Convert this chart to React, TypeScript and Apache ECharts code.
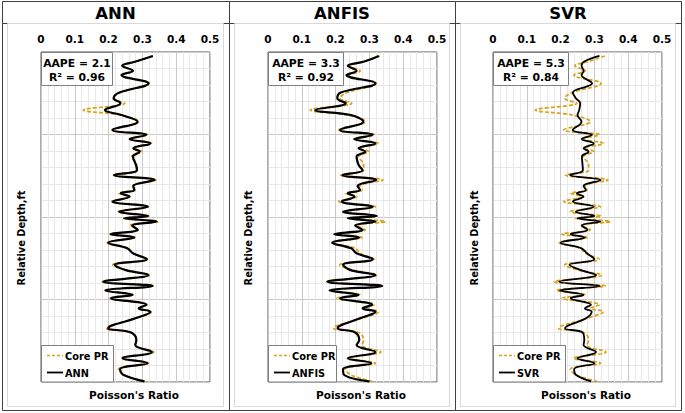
import React, { useEffect, useRef } from "react";
import * as echarts from "echarts";

// ---- data ----
const depth = [1.2, 2.9, 4.2, 5.7, 7.0, 9.5, 12.3, 14.0, 15.5, 17.6, 19.1, 21.1, 23.6, 25.1, 26.4, 27.7, 29.2, 30.2, 31.7, 34.2, 35.8, 37.3, 38.8, 40.6, 41.8, 42.8, 43.8, 45.3, 46.9, 48.4, 49.7, 50.4, 51.4, 52.6, 53.9, 55.2, 56.2, 57.8, 59.5, 61.0, 62.8, 64.5, 66.1, 67.6, 69.6, 70.9, 72.3, 73.6, 74.6, 76.6, 77.7, 78.7, 80.7, 83.7, 85.0, 87.3, 88.8, 90.9, 92.8, 94.3, 96.1, 97.8, 99.8];

const corePR = [0.331, 0.283, 0.242, 0.273, 0.239, 0.320, 0.234, 0.212, 0.248, 0.125, 0.234, 0.288, 0.209, 0.315, 0.261, 0.327, 0.271, 0.298, 0.268, 0.283, 0.283, 0.214, 0.340, 0.271, 0.278, 0.229, 0.263, 0.209, 0.318, 0.229, 0.320, 0.244, 0.347, 0.263, 0.288, 0.204, 0.278, 0.196, 0.258, 0.273, 0.315, 0.212, 0.253, 0.322, 0.181, 0.332, 0.188, 0.273, 0.204, 0.315, 0.288, 0.327, 0.278, 0.194, 0.268, 0.283, 0.278, 0.334, 0.239, 0.318, 0.229, 0.244, 0.308];

const annPR = [0.331, 0.280, 0.240, 0.272, 0.238, 0.318, 0.232, 0.215, 0.235, 0.189, 0.238, 0.286, 0.212, 0.312, 0.262, 0.324, 0.273, 0.292, 0.272, 0.281, 0.284, 0.216, 0.336, 0.273, 0.276, 0.236, 0.262, 0.212, 0.316, 0.231, 0.318, 0.246, 0.342, 0.270, 0.286, 0.206, 0.276, 0.199, 0.255, 0.272, 0.313, 0.218, 0.251, 0.318, 0.184, 0.330, 0.190, 0.271, 0.207, 0.312, 0.289, 0.324, 0.279, 0.199, 0.266, 0.282, 0.279, 0.328, 0.241, 0.315, 0.234, 0.243, 0.306];

const anfisPR = [0.328, 0.285, 0.236, 0.262, 0.232, 0.318, 0.215, 0.205, 0.230, 0.140, 0.245, 0.282, 0.213, 0.310, 0.255, 0.318, 0.268, 0.288, 0.262, 0.268, 0.280, 0.220, 0.320, 0.265, 0.272, 0.236, 0.256, 0.218, 0.310, 0.222, 0.322, 0.236, 0.318, 0.258, 0.280, 0.196, 0.270, 0.190, 0.246, 0.262, 0.310, 0.222, 0.244, 0.318, 0.175, 0.338, 0.182, 0.268, 0.214, 0.308, 0.280, 0.318, 0.272, 0.206, 0.258, 0.270, 0.262, 0.318, 0.236, 0.306, 0.222, 0.225, 0.300];

const svrPR = [0.315, 0.270, 0.262, 0.268, 0.262, 0.293, 0.236, 0.245, 0.258, 0.255, 0.250, 0.262, 0.236, 0.293, 0.262, 0.298, 0.268, 0.283, 0.263, 0.265, 0.266, 0.228, 0.318, 0.268, 0.275, 0.248, 0.268, 0.236, 0.298, 0.245, 0.300, 0.250, 0.318, 0.262, 0.280, 0.230, 0.272, 0.200, 0.262, 0.278, 0.300, 0.226, 0.260, 0.305, 0.196, 0.316, 0.198, 0.268, 0.230, 0.290, 0.272, 0.292, 0.275, 0.213, 0.265, 0.270, 0.268, 0.305, 0.250, 0.300, 0.240, 0.245, 0.290];

const modelNames = ["ANN", "ANFIS", "SVR"];
const modelValues = [annPR, anfisPR, svrPR];
const aapeValues = ["2.1", "3.3", "5.3"];
const r2Values = ["0.96", "0.92", "0.84"];

// ---- layout ----
const FONT = "'DejaVu Sans', Verdana, sans-serif";
const GOLD = "#D9A21B";
const PANELS = [
  { x0: 2, x1: 229, left: 41, boxW: 71, legW: 72 },
  { x0: 229, x1: 455, left: 268, boxW: 75, legW: 68 },
  { x0: 455, x1: 681, left: 493, boxW: 75, legW: 72 },
];
const TOP = 52;
const PW = 169;
const PH = 330;

export default function App() {
  const ref = useRef<HTMLDivElement>(null);
  useEffect(() => {
    if (!ref.current) return;
    const chart = echarts.init(ref.current, null, { renderer: "svg" });

    const grids = PANELS.map((p) => ({
      left: p.left,
      top: TOP,
      width: PW,
      height: PH,
      show: true,
      borderColor: "#595959",
      borderWidth: 1,
      backgroundColor: "#fff",
    }));

    const xAxes = PANELS.map((_, i) => ({
      gridIndex: i,
      type: "value",
      position: "top",
      min: 0,
      max: 0.5,
      interval: 0.1,
      axisLine: { show: false },
      axisTick: { show: false },
      axisLabel: {
        fontSize: 10.5,
        fontWeight: "bold",
        fontFamily: FONT,
        color: "#000",
        margin: 8,
        formatter: (v: number) => String(Math.round(v * 10) / 10),
      },
      splitLine: { show: true, lineStyle: { color: "#c8c8c8", width: 1 } },
      minorTick: { show: false, splitNumber: 5 },
      minorSplitLine: { show: true, lineStyle: { color: "#e8e8e8", width: 1 } },
    }));

    const yAxes = PANELS.map((_, i) => ({
      gridIndex: i,
      type: "value",
      inverse: true,
      min: 0,
      max: 100,
      interval: 25,
      axisLine: { show: false },
      axisTick: { show: false },
      axisLabel: { show: false },
      splitLine: { show: true, lineStyle: { color: "#c8c8c8", width: 1 } },
      minorTick: { show: false, splitNumber: 5 },
      minorSplitLine: { show: true, lineStyle: { color: "#e8e8e8", width: 1 } },
    }));

    const series: any[] = [];
    PANELS.forEach((_, i) => {
      series.push({
        type: "line",
        name: "Core PR",
        xAxisIndex: i,
        yAxisIndex: i,
        data: depth.map((d, k) => [corePR[k], d]),
        smooth: 0.4,
        showSymbol: false,
        lineStyle: { color: GOLD, width: 1.7, type: [4, 2] },
        z: 2,
      });
      series.push({
        type: "line",
        name: modelNames[i],
        xAxisIndex: i,
        yAxisIndex: i,
        data: depth.map((d, k) => [modelValues[i][k], d]),
        smooth: 0.4,
        showSymbol: false,
        lineStyle: { color: "#000", width: i === 2 ? 1.8 : 2.2 },
        z: 3,
      });
    });

    const txt = (text: string, x: number, y: number, size: number, extra: any = {}) => ({
      type: "text",
      x,
      y,
      z: 100,
      ...extra,
      style: {
        text,
        fontSize: size,
        fontWeight: "bold",
        fontFamily: FONT,
        fill: "#000",
        align: "center",
        verticalAlign: "middle",
        ...(extra.style || {}),
      },
    });

    const graphic: any[] = [];
    PANELS.forEach((p, i) => {
      graphic.push({
        type: "rect",
        z: 90,
        shape: { x: p.x0 + 0.5, y: 1.5, width: p.x1 - p.x0, height: 409 },
        style: { fill: "none", stroke: "#404040", lineWidth: 1 },
      });
      graphic.push({
        type: "line",
        z: 90,
        shape: { x1: p.x0, y1: 23.5, x2: p.x1, y2: 23.5 },
        style: { stroke: "#404040", lineWidth: 1 },
      });
      graphic.push({
        type: "rect",
        z: 90,
        shape: { x: p.x0 + 5.5, y: 23.5, width: p.x1 - p.x0 - 11, height: 383 },
        style: { fill: "none", stroke: "#d9d9d9", lineWidth: 1 },
      });
      graphic.push(txt(modelNames[i], (p.x0 + p.x1) / 2, 13, 16.5));
      // annotation box
      graphic.push({
        type: "rect",
        z: 100,
        shape: { x: p.left + 0.5, y: TOP + 0.5, width: p.boxW, height: 33 },
        style: { fill: "#fff", stroke: "#7f7f7f", lineWidth: 1 },
      });
      graphic.push(txt(`AAPE = ${aapeValues[i]}`, p.left + p.boxW / 2 + 0.5, 63.5, 10.8, { z: 101 }));
      graphic.push(txt(`R\u00B2 = ${r2Values[i]}`, p.left + p.boxW / 2 + 0.5, 77, 10.8, { z: 101 }));
      // legend
      graphic.push({
        type: "rect",
        z: 100,
        shape: { x: p.left + 0.5, y: 345.5, width: p.legW, height: 36.5 },
        style: { fill: "#fff", stroke: "#7f7f7f", lineWidth: 1 },
      });
      graphic.push({
        type: "line",
        z: 101,
        shape: { x1: p.left + 6, y1: 355.5, x2: p.left + 22, y2: 355.5 },
        style: { stroke: GOLD, lineWidth: 1.7, lineDash: [3, 2] },
      });
      graphic.push({
        type: "line",
        z: 101,
        shape: { x1: p.left + 6, y1: 372.5, x2: p.left + 22, y2: 372.5 },
        style: { stroke: "#000", lineWidth: 1.8 },
      });
      graphic.push(txt("Core PR", p.left + 24, 356, 9.8, { z: 101, style: { align: "left" } }));
      graphic.push(txt(modelNames[i], p.left + 24, 373, 9.8, { z: 101, style: { align: "left" } }));
      // axis titles
      graphic.push(txt("Relative Depth,ft", p.x0 + 19, 238, 9.8, { rotation: Math.PI / 2 }));
      graphic.push(txt("Poisson's Ratio", p.left + 93, 395, 10.5));
    });

    chart.setOption({
      animation: false,
      backgroundColor: "#fff",
      grid: grids,
      xAxis: xAxes,
      yAxis: yAxes,
      series,
      graphic,
    });
    return () => chart.dispose();
  }, []);

  return (
    <div
      ref={ref}
      style={{ position: "absolute", left: 0, top: 0, width: 685, height: 413 }}
    />
  );
}
